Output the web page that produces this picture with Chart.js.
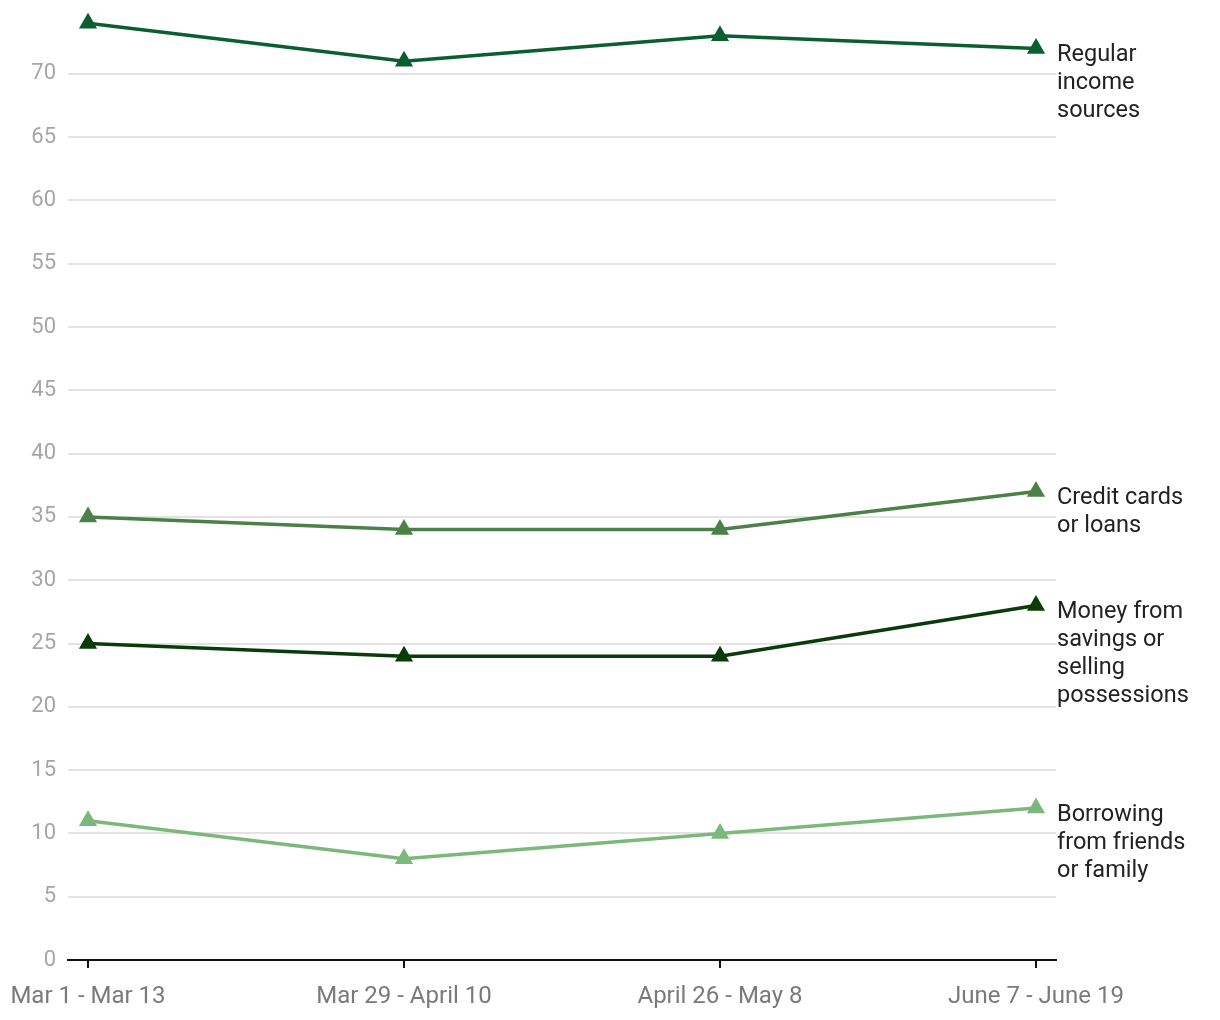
<!DOCTYPE html>
<html>
<head>
<meta charset="utf-8">
<script src="https://cdn.jsdelivr.net/npm/chart.js@4/dist/chart.umd.min.js"></script>
<style>
  html, body { margin: 0; padding: 0; background: #fff; }
  #wrap { width: 1220px; height: 1020px; position: relative; }
</style>
</head>
<body>
<div id="wrap"><canvas id="chart"></canvas></div>
<script>
// --- DATA ---
const periods = ['Mar 1 - Mar 13', 'Mar 29 - April 10', 'April 26 - May 8', 'June 7 - June 19'];
const seriesNames = [
    ['Regular', 'income', 'sources'],
    ['Credit cards', 'or loans'],
    ['Money from', 'savings or', 'selling', 'possessions'],
    ['Borrowing', 'from friends', 'or family']
];
const regularIncome = [74, 71, 73, 72];
const creditCards = [35, 34, 34, 37];
const savings = [25, 24, 24, 28];
const borrowing = [11, 8, 10, 12];
const yTicks = [0, 5, 10, 15, 20, 25, 30, 35, 40, 45, 50, 55, 60, 65, 70];

const colors = ['#0b5e2f', '#4b8047', '#0a3b0a', '#7cb87b'];
const allValues = [regularIncome, creditCards, savings, borrowing];

const toPoints = vals => vals.map((v, i) => ({ x: i, y: v }));

// labels at the end of each line
const endLabels = {
    id: 'endLabels',
    afterDatasetsDraw(chart) {
        const ctx = chart.ctx;
        ctx.save();
        ctx.font = '23.5px Roboto';
        ctx.fillStyle = '#222';
        ctx.textAlign = 'left';
        ctx.textBaseline = 'middle';
        chart.data.datasets.forEach((ds, i) => {
            const pts = chart.getDatasetMeta(i).data;
            const last = pts[pts.length - 1];
            seriesNames[i].forEach((line, j) => {
                ctx.fillText(line, chart.chartArea.right + 1, last.y + 7 + j * 28);
            });
        });
        ctx.restore();
    }
};

const noPad = s => { s.paddingLeft = 0; s.paddingRight = 0; s.paddingTop = 0; s.paddingBottom = 0; };

new Chart(document.getElementById('chart'), {
    type: 'line',
    data: {
        datasets: allValues.map((vals, i) => ({
            data: toPoints(vals),
            borderColor: colors[i],
            backgroundColor: colors[i],
            borderWidth: 3.5,
            pointStyle: 'triangle',
            pointRadius: 7,
            pointHoverRadius: 7,
            tension: 0
        }))
    },
    options: {
        responsive: true,
        maintainAspectRatio: false,
        animation: false,
        layout: { padding: { top: 8.5, right: 164, left: 0, bottom: 0 } },
        plugins: { legend: { display: false }, tooltip: { enabled: false } },
        scales: {
            x: {
                type: 'linear',
                min: -0.0633,
                max: 3.0633,
                afterBuildTicks: s => { s.ticks = periods.map((_, i) => ({ value: i })); },
                afterFit: s => { noPad(s); s.height = 60; },
                ticks: {
                    callback: v => periods[v],
                    color: '#7a7a7a',
                    font: { family: 'Roboto', size: 24 },
                    padding: 15,
                    maxRotation: 0,
                    autoSkip: false
                },
                grid: { drawOnChartArea: false, color: '#111', lineWidth: 2, tickLength: 8 },
                border: { color: '#111', width: 2 }
            },
            y: {
                min: 0,
                max: 75,
                afterBuildTicks: s => { s.ticks = yTicks.map(v => ({ value: v })); },
                afterFit: s => { noPad(s); s.width = 68; },
                ticks: {
                    color: '#a6a6a6',
                    font: { family: 'Roboto', size: 22 },
                    padding: 12
                },
                grid: {
                    color: ctx => ctx.tick && ctx.tick.value === 0 ? 'rgba(0,0,0,0)' : '#e3e3e3',
                    lineWidth: 2,
                    drawTicks: false
                },
                border: { display: false }
            }
        }
    },
    plugins: [endLabels]
});
</script>
</body>
</html>
